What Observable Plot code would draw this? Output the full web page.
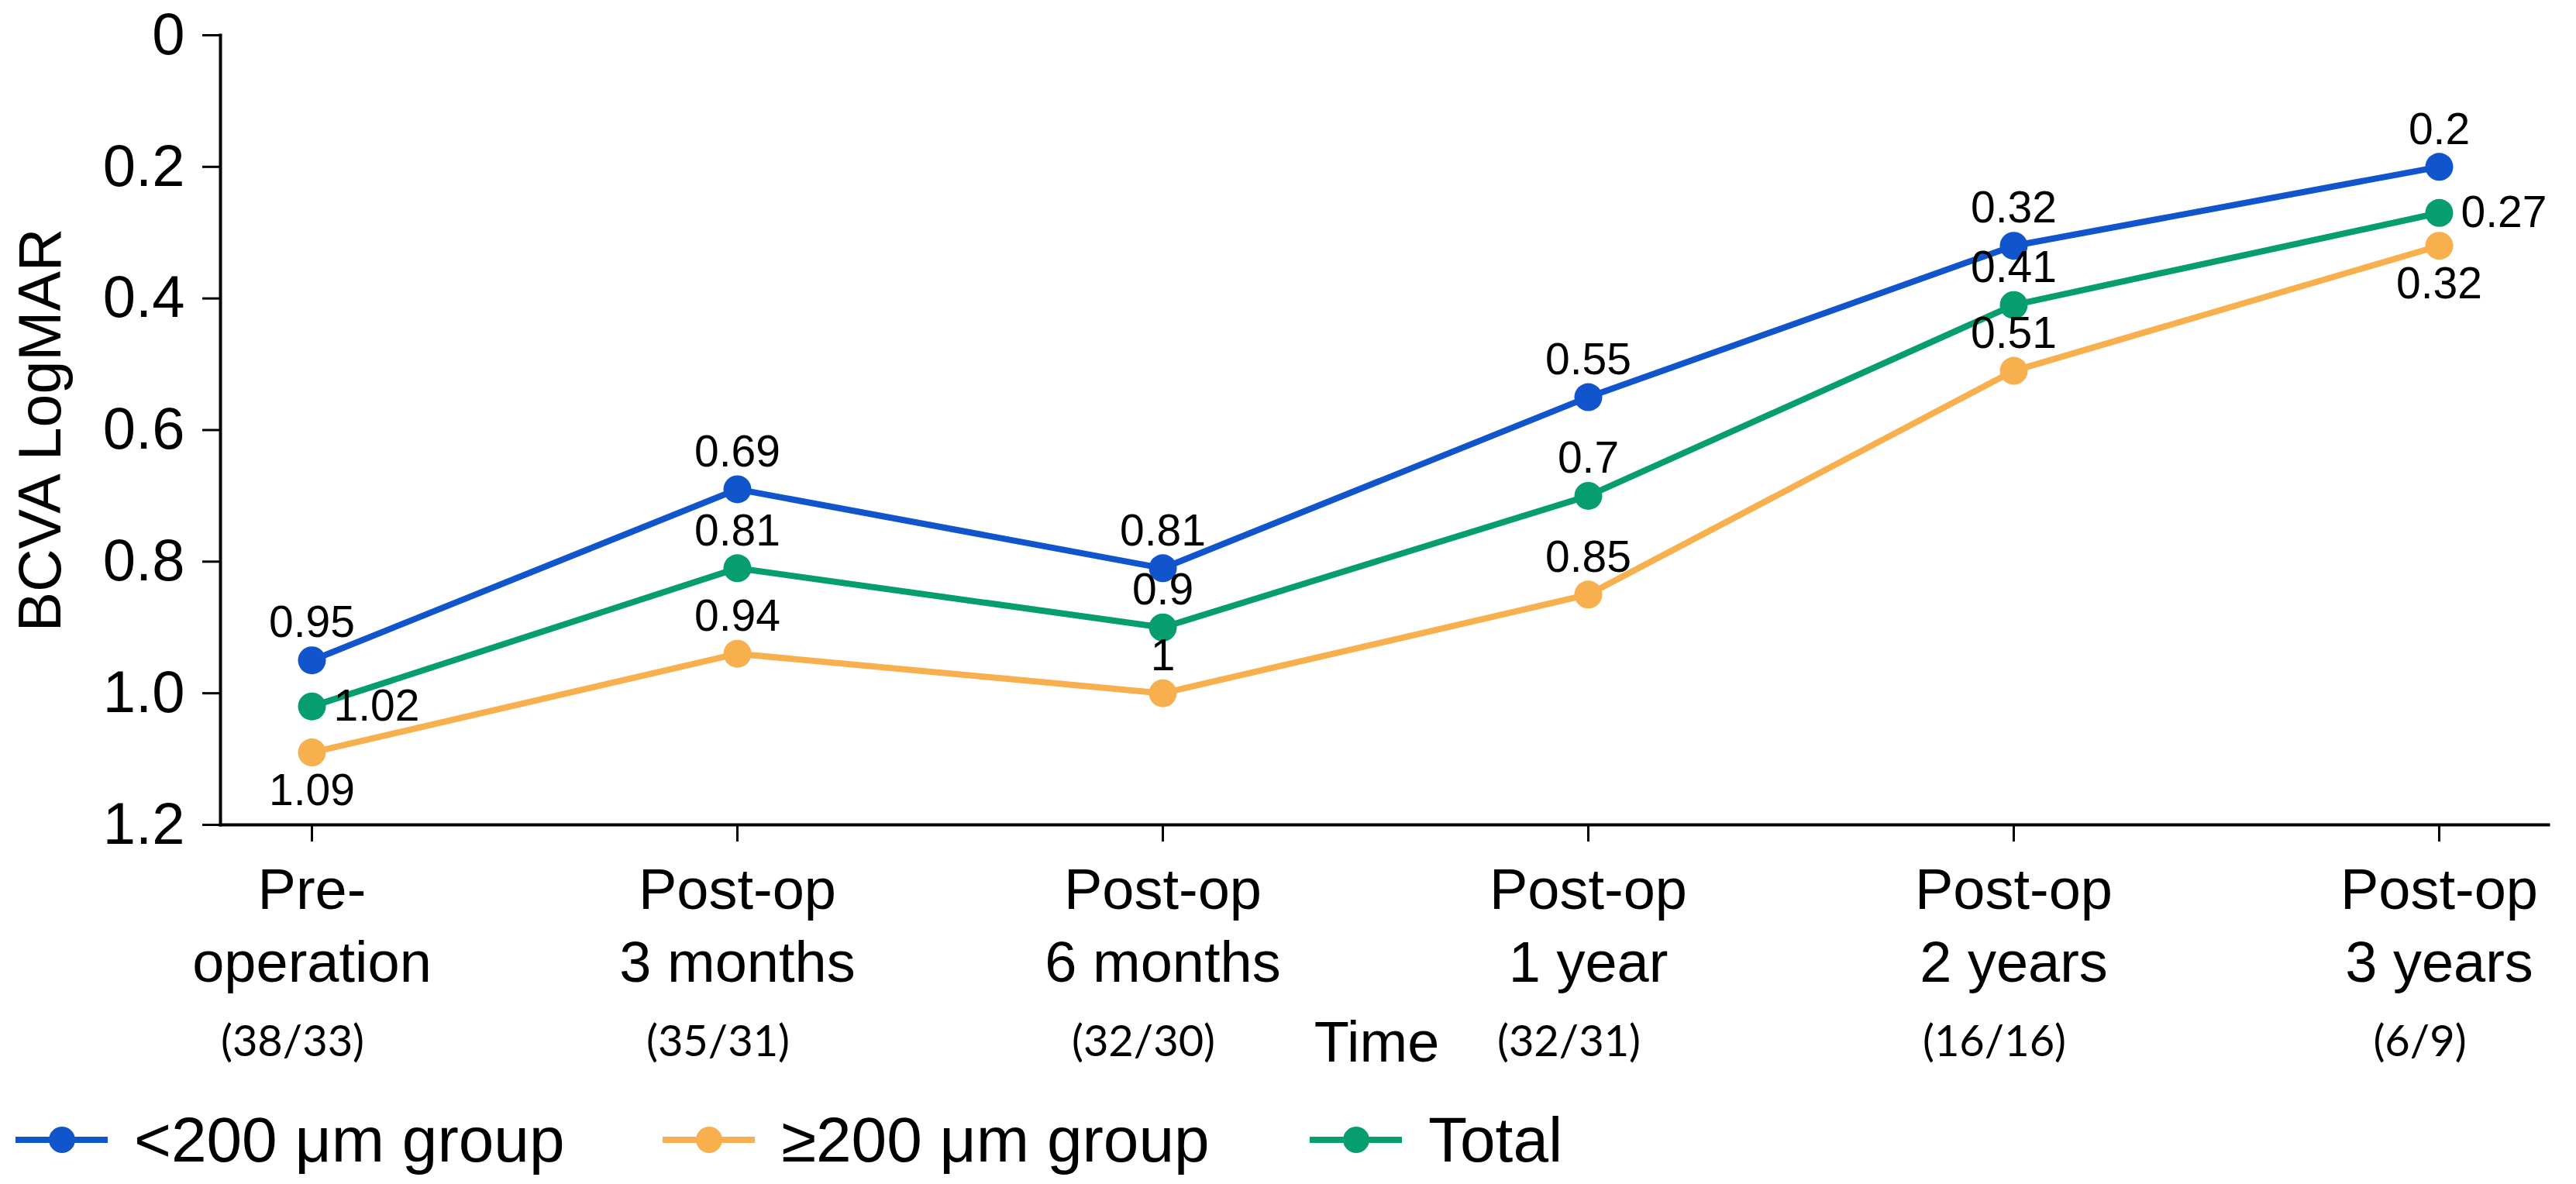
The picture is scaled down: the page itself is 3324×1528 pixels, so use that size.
<!DOCTYPE html>
<html>
<head>
<meta charset="utf-8">
<script src="https://cdn.jsdelivr.net/npm/d3@7"></script>
<script src="https://cdn.jsdelivr.net/npm/@observablehq/plot@0.6"></script>
<style>
  html, body { margin: 0; padding: 0; background: #fff; }
  #legend { display: flex; align-items: center; height: 102px; padding-left: 20px;
            font-family: 'Liberation Sans', Arial, sans-serif; font-size: 82px; color: #000; }
  .item { display: flex; align-items: center; width: 835px; flex: none; }
  .item svg { flex: none; }
  .item span { margin-left: 34px; white-space: nowrap; }
</style>
</head>
<body>
<div id="chart"></div>
<div id="legend"></div>
<script>
const categories = ["Pre-\noperation", "Post-op\n3 months", "Post-op\n6 months", "Post-op\n1 year", "Post-op\n2 years", "Post-op\n3 years"];
const sampleCounts = ["(38/33)", "(35/31)", "(32/30)", "(32/31)", "(16/16)", "(6/9)"];
const seriesNames = ["<200 μm group", "≥200 μm group", "Total"];
const smallGroup = [0.95, 0.69, 0.81, 0.55, 0.32, 0.2];
const largeGroup = [1.09, 0.94, 1, 0.85, 0.51, 0.32];
const totalGroup = [1.02, 0.81, 0.9, 0.7, 0.41, 0.27];
const yTicks = [0, 0.2, 0.4, 0.6, 0.8, 1.0, 1.2];
const colors = ["#1155CC", "#F8AF4E", "#069E6F"];

const seriesValues = [smallGroup, largeGroup, totalGroup];
const rows = [];
seriesNames.forEach((s, k) => {
  seriesValues[k].forEach((v, i) => rows.push({time: categories[i], series: s, value: v, i}));
});
const last = categories.length - 1;
const isEnd = d => d.i === 0 || d.i === last;
const right = d => d.series === "Total" && isEnd(d);
const below = d => d.series === "≥200 μm group" && isEnd(d);
const above = d => !right(d) && !below(d);

const chart = Plot.plot({
  width: 3324,
  height: 1420,
  marginLeft: 284,
  marginRight: 36,
  marginTop: 45,
  marginBottom: 356,
  style: {fontFamily: "'Liberation Sans', Arial, sans-serif", background: "#fff", color: "#000", overflow: "visible"},
  x: {type: "point", domain: categories, range: [401, 3148], padding: 0},
  y: {domain: [0, 1.2], reverse: true},
  color: {domain: seriesNames, range: colors},
  marks: [
    Plot.frame({anchor: "left", strokeWidth: 4}),
    Plot.frame({anchor: "bottom", strokeWidth: 4}),
    Plot.axisY({ticks: yTicks, tickFormat: d => d === 0 ? "0" : d.toFixed(1), tickSize: 23, tickPadding: 23, fontSize: 76, strokeWidth: 3, label: null}),
    Plot.axisX({tickSize: 22, tickPadding: 19, fontSize: 74, lineHeight: 1.28, strokeWidth: 3, label: null}),
    Plot.line(rows, {x: "time", y: "value", z: "series", stroke: "series", strokeWidth: 8}),
    Plot.dot(rows, {x: "time", y: "value", fill: "series", r: 18}),
    Plot.text(rows.filter(above), {x: "time", y: "value", text: d => String(d.value), dy: -48, fontSize: 57}),
    Plot.text(rows.filter(right), {x: "time", y: "value", text: d => String(d.value), dx: 28, textAnchor: "start", fontSize: 57}),
    Plot.text(rows.filter(below), {x: "time", y: "value", text: d => String(d.value), dy: 50, fontSize: 57}),
    Plot.text(sampleCounts, {x: categories, text: d => d, frameAnchor: "bottom", lineAnchor: "middle", dy: 281, dx: -25, fontSize: 56, fontFamily: "Lato"}),
    Plot.text(["Time"], {frameAnchor: "bottom", lineAnchor: "middle", textAnchor: "middle", dy: 282, dx: -10, fontSize: 74}),
    Plot.text(["BCVA LogMAR"], {frameAnchor: "left", textAnchor: "middle", lineAnchor: "middle", dx: -231, rotate: -90, fontSize: 77})
  ]
});
document.getElementById("chart").appendChild(chart);

const legend = document.getElementById("legend");
seriesNames.forEach((s, k) => {
  const item = document.createElement("div");
  item.className = "item";
  item.innerHTML = `<svg width="119" height="40" viewBox="0 0 119 40">
      <line x1="0" x2="119" y1="20" y2="20" stroke="${colors[k]}" stroke-width="8"/>
      <circle cx="60" cy="20" r="17" fill="${colors[k]}"/></svg><span></span>`;
  item.querySelector("span").textContent = s;
  legend.appendChild(item);
});
</script>
</body>
</html>
